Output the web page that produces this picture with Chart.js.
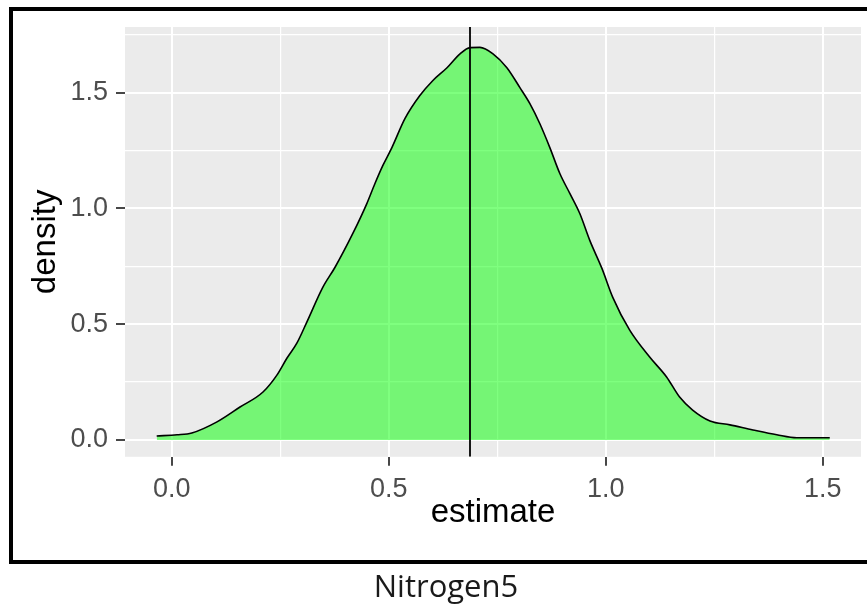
<!DOCTYPE html>
<html>
<head>
<meta charset="utf-8">
<script src="https://cdn.jsdelivr.net/npm/chart.js@4/dist/chart.umd.min.js"></script>
<style>
  html, body { margin: 0; padding: 0; background: #ffffff; }
  #wrap { width: 867px; height: 609px; }
</style>
</head>
<body>
<div id="wrap"><canvas id="c" width="867" height="609"></canvas></div>
<script>
// ---- data ----
const estimate = [-0.035, 0.012, 0.046, 0.104, 0.157, 0.21, 0.242, 0.265, 0.288, 0.311,
  0.348, 0.376, 0.417, 0.449, 0.468, 0.486, 0.507, 0.537, 0.571, 0.601,
  0.634, 0.664, 0.687, 0.71, 0.74, 0.772, 0.802, 0.825, 0.848, 0.871,
  0.894, 0.917, 0.94, 0.963, 0.991, 1.016, 1.055, 1.101, 1.14, 1.17,
  1.2, 1.24, 1.286, 1.339, 1.394, 1.44, 1.516];
const density = [0.017, 0.022, 0.03, 0.078, 0.142, 0.207, 0.28, 0.353, 0.418, 0.509,
  0.66, 0.746, 0.892, 1.02, 1.108, 1.185, 1.263, 1.388, 1.487, 1.552,
  1.608, 1.668, 1.695, 1.696, 1.668, 1.608, 1.522, 1.453, 1.366, 1.263,
  1.151, 1.065, 0.978, 0.862, 0.741, 0.616, 0.474, 0.358, 0.272, 0.185,
  0.129, 0.082, 0.065, 0.043, 0.022, 0.009, 0.009];
const markerX = 0.687;
const xTickValues = [0.0, 0.5, 1.0, 1.5];
const yTickValues = [0.0, 0.5, 1.0, 1.5];
const xRange = [-0.108, 1.588];
const yRange = [-0.073, 1.784];
const xTitle = 'estimate';
const yTitle = 'density';
const caption = 'Nitrogen5';

// ---- chart ----
const curve = estimate.map((x, i) => ({ x: x, y: density[i] }));
const vline = [{ x: markerX, y: yRange[0] }, { x: markerX, y: yRange[1] }];

const isMajor = (v, list) => list.some(t => Math.abs(t - v) < 1e-6);

const panelBg = {
  id: 'panelBg',
  beforeDraw(chart) {
    const { ctx, chartArea: a } = chart;
    ctx.save();
    ctx.fillStyle = '#ffffff';
    ctx.fillRect(0, 0, chart.width, chart.height);
    ctx.fillStyle = '#EBEBEB';
    ctx.fillRect(a.left, a.top, a.right - a.left, a.bottom - a.top);
    ctx.restore();
  },
  afterDraw(chart) {
    const { ctx } = chart;
    ctx.save();
    ctx.strokeStyle = '#000000';
    ctx.lineWidth = 4;
    ctx.strokeRect(11, 9, 880, 553);
    ctx.restore();
  }
};

const tickFont = { family: '"Liberation Sans", Arial, sans-serif', size: 27 };
const titleFont = { family: '"Liberation Sans", Arial, sans-serif', size: 33 };

function gridOpts(list) {
  return {
    display: true,
    drawOnChartArea: true,
    drawTicks: true,
    tickLength: 9,
    color: '#ffffff',
    lineWidth: c => (c.tick && isMajor(c.tick.value, list)) ? 2 : 1.2,
    tickColor: c => (c.tick && isMajor(c.tick.value, list)) ? '#333333' : 'rgba(0,0,0,0)',
    tickWidth: c => (c.tick && isMajor(c.tick.value, list)) ? 1.8 : 0
  };
}

new Chart(document.getElementById('c'), {
  type: 'line',
  data: {
    datasets: [
      {
        data: curve,
        borderColor: '#000000',
        borderWidth: 1.6,
        backgroundColor: 'rgba(0,255,0,0.5)',
        fill: 'origin',
        pointRadius: 0,
        cubicInterpolationMode: 'monotone',
        order: 2
      },
      {
        data: vline,
        borderColor: '#000000',
        borderWidth: 1.8,
        fill: false,
        pointRadius: 0,
        order: 1
      }
    ]
  },
  options: {
    responsive: false,
    animation: false,
    events: [],
    layout: { padding: { left: 31, top: 27, right: 6, bottom: 0 } },
    plugins: {
      legend: { display: false },
      tooltip: { enabled: false },
      title: {
        display: true,
        position: 'bottom',
        text: caption,
        color: '#1a1a1a',
        font: { family: '"Open Sans", "Noto Sans", sans-serif', size: 31, weight: 'normal' },
        padding: { top: 13, bottom: 2 }
      }
    },
    scales: {
      x: {
        type: 'linear',
        min: xRange[0],
        max: xRange[1],
        border: { display: false },
        grid: gridOpts(xTickValues),
        ticks: {
          stepSize: 0.25,
          includeBounds: false,
          autoSkip: false,
          maxRotation: 0,
          padding: 8,
          color: '#4D4D4D',
          font: tickFont,
          callback: v => isMajor(v, xTickValues) ? v.toFixed(1) : ''
        },
        title: {
          display: true,
          text: xTitle,
          color: '#000000',
          font: titleFont,
          padding: { top: 0, bottom: 24 }
        },
        afterFit: s => { s.height = 100; }
      },
      y: {
        type: 'linear',
        min: yRange[0],
        max: yRange[1],
        border: { display: false },
        grid: gridOpts(yTickValues),
        ticks: {
          stepSize: 0.25,
          includeBounds: false,
          autoSkip: false,
          padding: 8,
          color: '#4D4D4D',
          font: tickFont,
          callback: v => isMajor(v, yTickValues) ? v.toFixed(1) : ''
        },
        title: {
          display: true,
          text: yTitle,
          color: '#000000',
          font: titleFont,
          padding: { top: -5, bottom: 0 }
        },
        afterFit: s => { s.width = 94; }
      }
    }
  },
  plugins: [panelBg]
});
</script>
</body>
</html>
